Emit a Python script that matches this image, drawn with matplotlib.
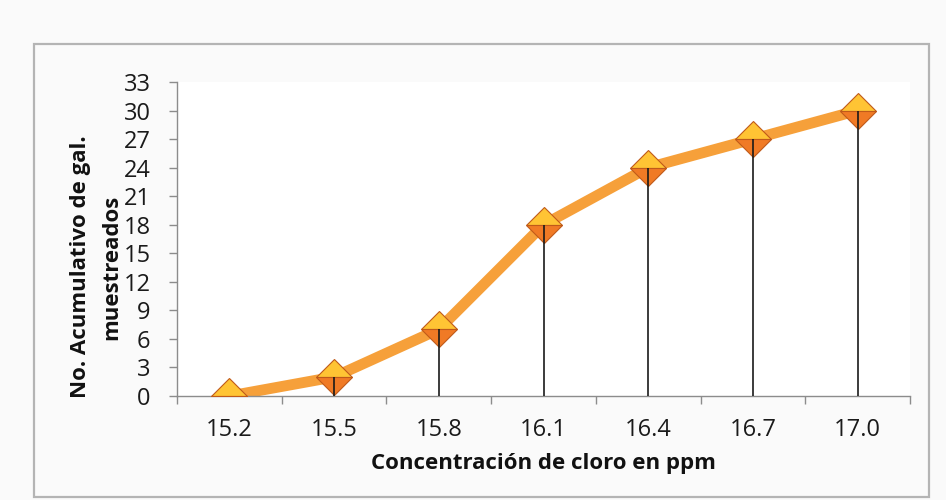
import numpy as np
import matplotlib.pyplot as plt
from matplotlib.patches import Rectangle
from matplotlib.ticker import FixedLocator, NullFormatter

plt.rcParams['font.family'] = ['Open Sans', 'DejaVu Sans']

concentracion = ["15.2", "15.5", "15.8", "16.1", "16.4", "16.7", "17.0"]
acumulado = [0, 2, 7, 18, 24, 27, 30]
y_ticks = list(range(0, 34, 3))

fig = plt.figure(figsize=(9.46, 5.0), dpi=100, facecolor="#fafafa")
ax = fig.add_axes([177 / 946, 1 - 396 / 500, (910 - 177) / 946, (396 - 82) / 500])
ax.set_facecolor("white")

# marco exterior del grafico
fig.patches.append(Rectangle((34 / 946, 1 - 497 / 500), (929 - 34) / 946, (497 - 44) / 500,
                             transform=fig.transFigure, fill=False,
                             edgecolor="#b4b4b4", lw=1.6))

x = np.arange(len(concentracion))
ax.plot(x, acumulado, color="#f6a03a", lw=7.8, solid_capstyle="round",
        solid_joinstyle="round", zorder=2)
ax.plot(x, acumulado, ls="none", marker="D", ms=18.5, fillstyle="top",
        markerfacecolor="#ffc434", markerfacecoloralt="#f07a25",
        markeredgecolor="#c05a1a", markeredgewidth=0.8, zorder=3)
# lineas de caida hasta el eje
ax.vlines(x, 0, acumulado, color="#1a1a1a", lw=1.2, zorder=4)

ax.set_xlim(-0.5, len(concentracion) - 0.5)
ax.set_ylim(0, 33)
ax.set_yticks(y_ticks)
ax.set_xticks(x)
ax.set_xticklabels(concentracion)
ax.xaxis.set_minor_locator(FixedLocator(np.arange(-0.5, len(concentracion), 1.0)))
ax.xaxis.set_minor_formatter(NullFormatter())

ax.tick_params(axis="x", which="major", length=0, pad=16, labelsize=17, colors="#1a1a1a")
ax.tick_params(axis="x", which="minor", length=6, width=1, color="#8c8c8c", direction="out")
ax.tick_params(axis="y", length=6, width=1, color="#8c8c8c", pad=13,
               labelsize=17, labelcolor="#1a1a1a")

for side in ("top", "right"):
    ax.spines[side].set_visible(False)
for side in ("left", "bottom"):
    ax.spines[side].set_color("#8c8c8c")
    ax.spines[side].set_linewidth(1)

ax.set_xlabel("Concentración de cloro en ppm", fontsize=16, fontweight="bold",
              color="#111111", va="center")
ax.xaxis.set_label_coords(0.5, -0.215)
fig.text(96 / 946, 1 - 267 / 500, "No. Acumulativo de gal.\nmuestreados",
         rotation=90, ha="center", va="center", multialignment="center",
         fontsize=16, fontweight="bold", color="#111111", linespacing=1.6)

fig.savefig("out.png", dpi=100, facecolor=fig.get_facecolor())
